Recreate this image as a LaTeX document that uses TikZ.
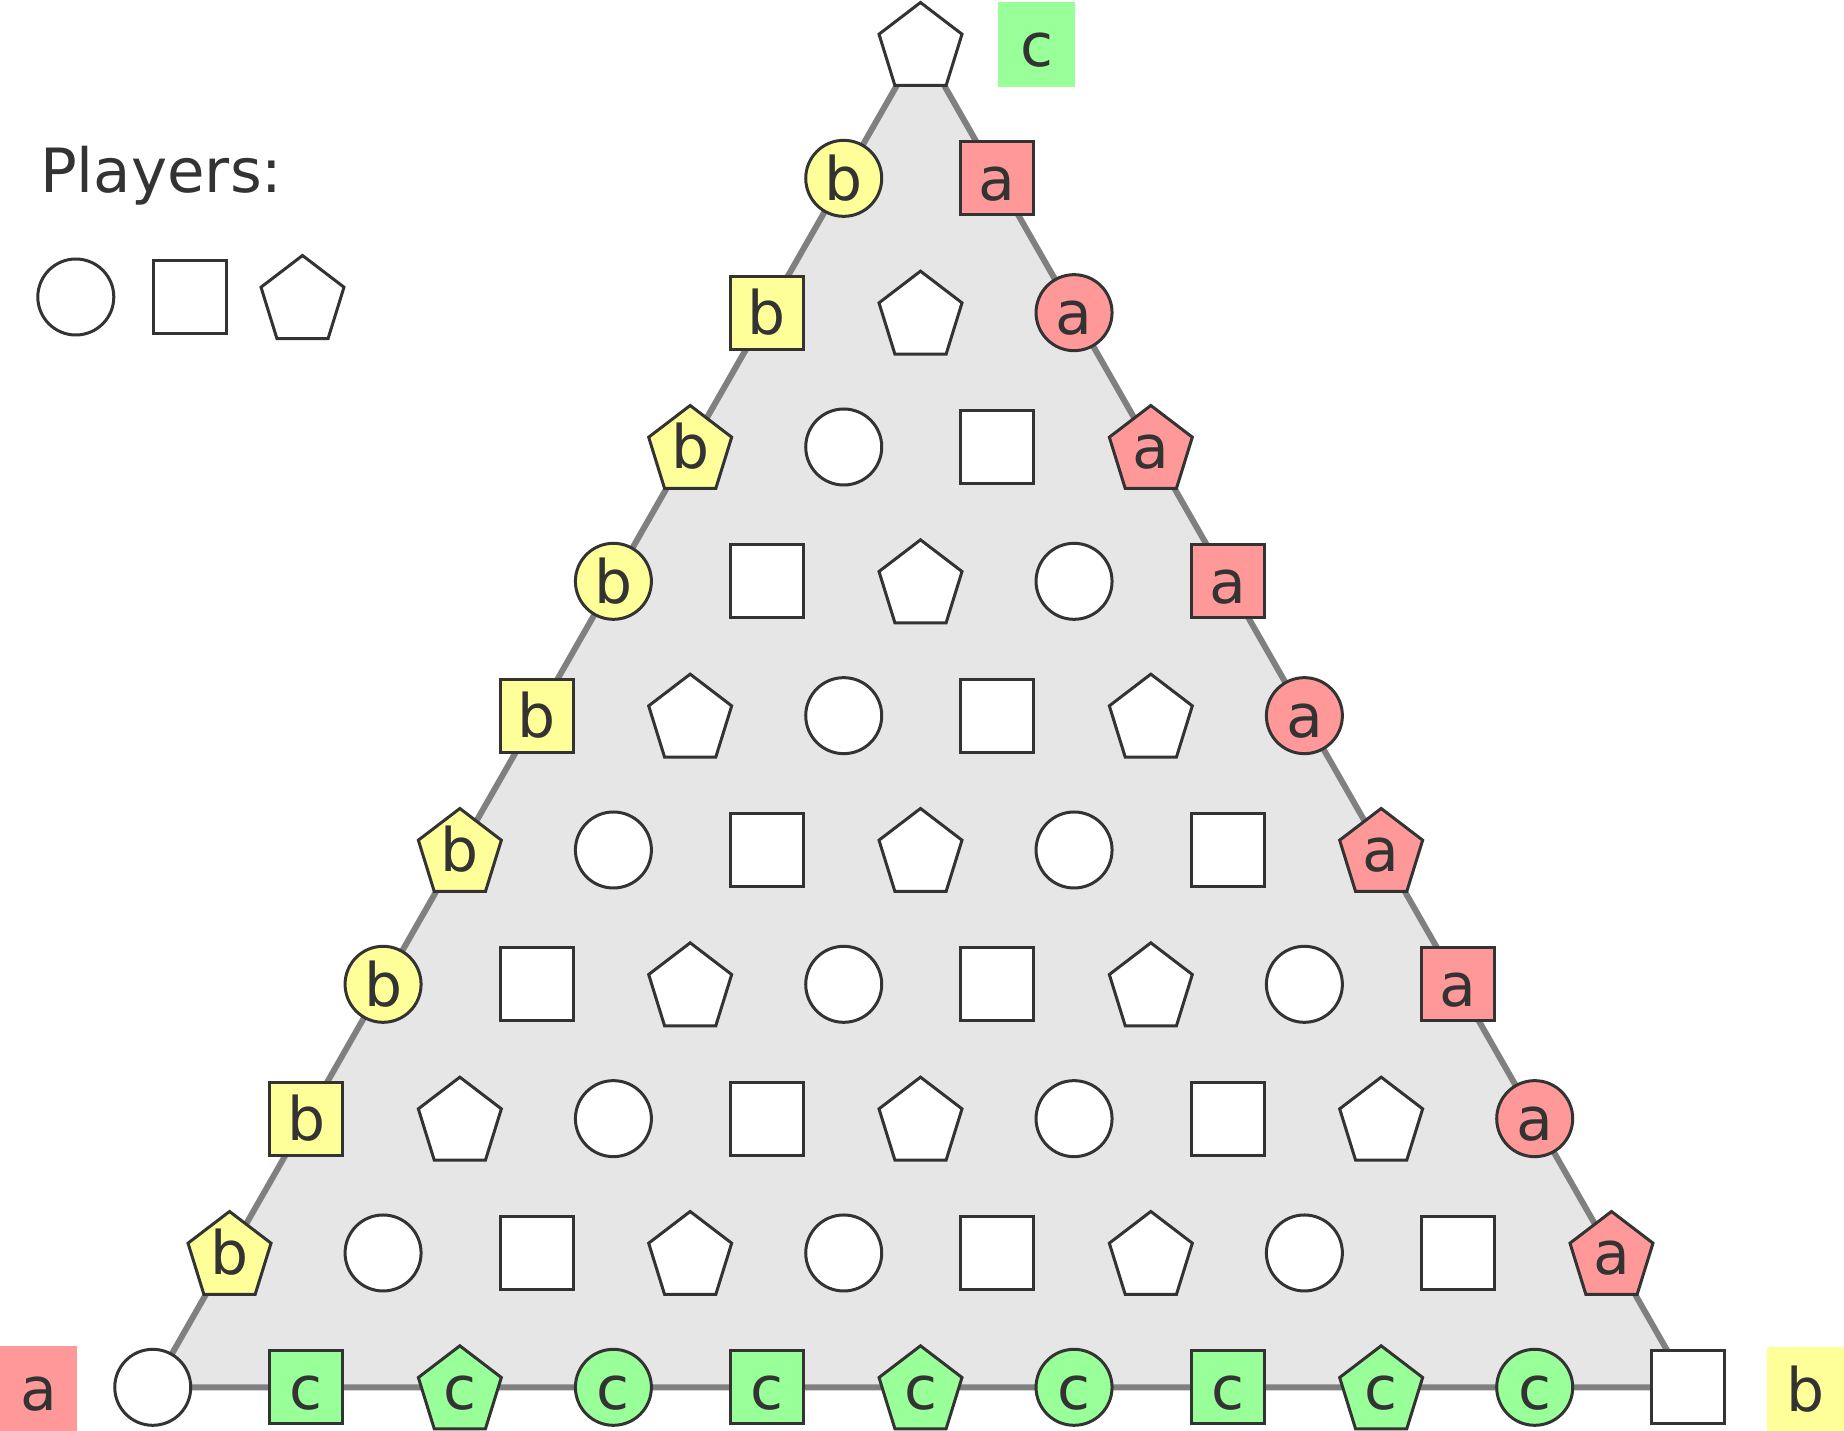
\documentclass[tikz,border=0pt]{standalone}
\usepackage{fontspec}
\setmainfont{DejaVu Sans}
\usetikzlibrary{shapes.geometric}
\definecolor{ink}{HTML}{333333}
\definecolor{tri}{HTML}{E6E6E6}
\definecolor{triline}{HTML}{808080}
\definecolor{ya}{HTML}{FFFF99}
\definecolor{ra}{HTML}{FF9999}
\definecolor{ga}{HTML}{99FF99}
\tikzset{
 piece/.style={draw=ink, line width=3pt, fill=white, inner sep=0pt, outer sep=0pt},
 circ/.style={piece, circle, minimum size=76pt},
 sq/.style={piece, rectangle, minimum size=73pt},
 pentbox/.style={inner sep=0pt, outer sep=0pt, minimum size=83pt},
 lab/.style={text=ink, font=\fontsize{60}{72}\selectfont, anchor=base, inner sep=0pt},
 tag/.style={fill=#1, minimum width=77pt, minimum height=85pt, inner sep=0pt},
}
% pentagon in a square box of side 83: name, x, y, fill
\newcommand\pentpiece[4]{%
  \node[pentbox] (#1) at (#2,#3) {};
  \filldraw[draw=ink, line width=3pt, fill=#4]
    (#2,#3-41.5) -- (#2+41.5,#3-9.8) -- (#2+25.6,#3+41.5)
    -- (#2-25.6,#3+41.5) -- (#2-41.5,#3-9.8) -- cycle;
}
\begin{document}
\begin{tikzpicture}[x=1pt,y=-1pt]
\useasboundingbox (0,0) rectangle (1844,1431);
\coordinate (apex) at (920.5,44);
\coordinate (bl) at (152.8,1387.3);
\coordinate (br) at (1688.2,1387.3);
\draw[draw=triline, fill=tri, line width=6pt, line join=round] (apex) -- (bl) -- (br) -- cycle;
\foreach \r in {0,...,10}{
 \foreach \k in {0,...,\r}{
  \pgfmathsetmacro\px{920.5+(\k-\r/2)*153.55}
  \pgfmathsetmacro\py{44+134.33*\r}
  \pgfmathtruncatemacro\t{mod(\k+\r+2,3)}
  \def\fc{white}\def\tx{}
  \ifnum\r>0 \ifnum\r<10
     \ifnum\k=0 \def\fc{ya}\def\tx{b}\fi
     \ifnum\k=\r \def\fc{ra}\def\tx{a}\fi
  \fi\fi
  \ifnum\r=10 \ifnum\k>0 \ifnum\k<10 \def\fc{ga}\def\tx{c}\fi\fi\fi
  \ifcase\t
    \node[circ, fill=\fc] (n-\r-\k) at (\px,\py) {};
  \or
    \node[sq, fill=\fc] (n-\r-\k) at (\px,\py) {};
  \or
    \pentpiece{n-\r-\k}{\px}{\py}{\fc}
  \fi
  \ifx\tx\empty\else
    \node[lab] (t-\r-\k) at (\px,\py+22) {\tx};
  \fi
 }
}
% outside tags
\node[tag=ga] (tagc) at (1036.5,44.5) {};
\node[lab] (tagct) at (1036.5,66.5) {c};
\node[tag=ra] (taga) at (38.5,1388.5) {};
\node[lab] (tagat) at (38.5,1410.5) {a};
\node[tag=ya] (tagb) at (1805.5,1389.5) {};
\node[lab] (tagbt) at (1805.5,1411.5) {b};
% legend
\node[text=ink, font=\fontsize{61}{72}\selectfont, anchor=base west, inner sep=0pt] (players) at (40,192.7) {Players:};
\node[circ] (lc) at (75.8,297) {};
\node[sq] (ls) at (189.7,296.8) {};
\pentpiece{lp}{302.5}{297}{white}
\end{tikzpicture}
\end{document}
